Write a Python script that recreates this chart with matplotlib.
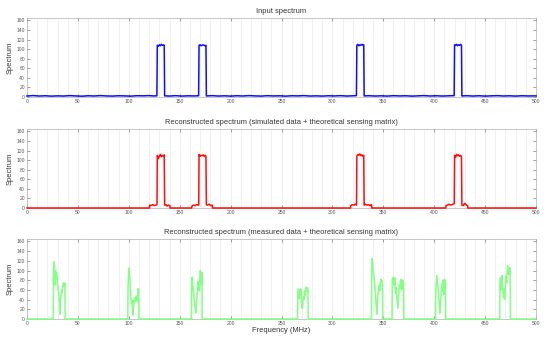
import matplotlib
matplotlib.use("Agg")
import matplotlib.pyplot as plt
from matplotlib.ticker import MultipleLocator

# ---------------- data ----------------
titles = ["Input spectrum",
          "Reconstructed spectrum (simulated data + theoretical sensing matrix)",
          "Reconstructed spectrum (measured data + theoretical sensing matrix)"]

# Input spectrum (blue): breakpoints (MHz) and values
in_freq = [0, 6, 12, 18, 24, 30, 36, 42, 48, 54, 60, 66, 72, 78, 84, 90, 96, 102, 108, 114, 120, 124, 127.6,
           128, 129, 130, 131, 132, 133, 134, 134.8,
           135.2, 140, 146, 152, 158, 164, 168.6,
           169, 170, 171, 172, 173, 174, 175, 175.8,
           176.2, 182, 188, 194, 200, 206, 212, 218, 224, 230, 236, 242, 248, 254, 260, 266, 272, 278, 284,
           290, 296, 302, 308, 314, 320, 323.6,
           324, 325, 326, 327, 328, 329, 330, 330.8,
           331.2, 336, 342, 348, 354, 360, 366, 372, 378, 384, 390, 396, 402, 408, 414, 419.6,
           420, 421, 422, 423, 424, 425, 426, 426.8,
           427.2, 432, 438, 444, 450, 456, 462, 468, 474, 480, 486, 492, 500]
in_val = [2.0, 3.0, 2.0, 2.6, 1.8, 2.4, 2.0, 2.9, 2.2, 1.7, 2.6, 2.1, 2.9, 2.2, 1.9, 2.6, 2.3, 1.8, 2.7, 2.4, 2.9, 2.2, 2.5,
          108, 106, 109, 107, 110, 108, 109, 108,
          2.4, 2.0, 2.8, 1.9, 2.5, 2.2, 2.6,
          108, 109, 107, 108, 109, 108, 107, 108,
          2.2, 2.8, 2.0, 2.5, 1.8, 2.6, 2.1, 2.9, 2.3, 1.9, 2.7, 2.2, 2.5, 1.8, 2.6, 2.3, 2.9, 2.0, 2.4,
          1.9, 2.6, 2.2, 2.8, 2.0, 2.5, 2.9,
          108, 110, 107, 109, 108, 110, 108, 109,
          2.3, 2.7, 2.0, 2.5, 1.9, 2.8, 2.2, 2.6, 1.8, 2.4, 2.9, 2.1, 2.6, 2.0, 2.5, 2.8,
          109, 108, 110, 107, 109, 108, 110, 108,
          2.2, 2.7, 2.0, 2.6, 1.9, 2.4, 2.8, 2.1, 2.5, 1.9, 2.6, 2.2, 2.3]

# Reconstructed, simulated data (red)
sim_freq = [0, 120.3,
            120.5, 122, 123.5, 125, 126.5, 127.7,
            128, 129, 130, 131, 132, 133, 134, 134.8,
            135.2, 136.5, 137.5, 139, 140.3,
            140.5, 161.8,
            162, 163.5, 165, 166.5, 168.7,
            169, 170, 171, 172, 173, 174, 175, 175.8,
            176.2, 177.5, 179, 180.5, 182,
            182.2, 317.8,
            318, 319.5, 321, 322.5, 323.7,
            324, 325, 326, 327, 328, 329, 330, 330.8,
            331.2, 332.5, 334, 335.5, 337, 338.4,
            338.6, 411.4,
            411.6, 413, 414.5, 416, 417.5, 419.7,
            420, 421, 422, 423, 424, 425, 426, 426.8,
            427.2, 428.5, 430, 431.5, 432.8,
            433, 500]
sim_val = [0, 0,
           6, 5, 7, 5, 6, 7,
           110, 103, 108, 112, 107, 110, 108, 111,
           6, 7, 4, 6, 5,
           0, 0,
           4, 6, 5, 7, 6,
           112, 108, 110, 109, 111, 108, 110, 108,
           7, 6, 8, 5, 6,
           0, 0,
           5, 7, 6, 8, 6,
           108, 112, 110, 113, 109, 111, 108, 110,
           6, 8, 6, 7, 5, 7,
           0, 0,
           5, 6, 8, 6, 7, 9,
           110, 106, 112, 109, 111, 108, 110, 107,
           6, 5, 10, 6, 5,
           0, 0]

# Reconstructed, measured data (green)
meas_freq = [0, 25.8,
             26, 26.5, 27, 27.5, 28, 28.5, 29, 29.5, 30, 30.5, 31, 31.5, 32, 32.5, 33, 33.5, 34, 34.5, 35, 35.5, 36, 36.5, 37.2,
             37.5, 99.0,
             99.2, 99.7, 100.2, 100.7, 101.2, 101.7, 102.2, 102.7, 103.2, 103.7, 104.2, 104.7, 105.2, 105.7, 106.2, 106.7,
             107.2, 107.7, 108.2, 108.7, 109.2, 109.7,
             110.0, 161.6,
             161.8, 162.3, 162.8, 163.3, 163.8, 164.3, 164.8, 165.3, 165.8, 166.3, 166.8, 167.3, 167.8, 168.3, 168.8,
             169.3, 169.8, 170.3, 170.8, 171.3, 171.8,
             172.1, 265.8,
             266, 266.5, 267, 267.5, 268, 268.5, 269, 269.5, 270, 270.5, 271, 271.5, 272, 272.5, 273, 273.5, 274,
             274.5, 275, 275.5, 276,
             276.3, 338.4,
             338.6, 339.1, 339.6, 340.1, 340.6, 341.1, 341.6, 342.1, 342.6, 343.1, 343.6, 344.1, 344.6, 345.1, 345.6,
             346.1, 346.6, 347.1, 347.6, 348.1, 348.6, 349.1,
             349.4, 358.6,
             358.8, 359.3, 359.8, 360.3, 360.8, 361.3, 361.8, 362.3, 362.8, 363.3, 363.8, 364.3, 364.8, 365.3, 365.8,
             366.3, 366.8, 367.3, 367.8, 368.3, 368.8, 369.3, 369.8,
             370.1, 401.3,
             401.5, 402, 402.5, 403, 403.5, 404, 404.5, 405, 405.5, 406, 406.5, 407, 407.5, 408, 408.5, 409, 409.5,
             410, 410.5, 411,
             411.3, 464.4,
             464.6, 465.1, 465.6, 466.1, 466.6, 467.1, 467.6, 468.1, 468.6, 469.1, 469.6, 470.1, 470.6, 471.1, 471.6,
             472.1, 472.6, 473.1, 473.6, 474.1, 474.6,
             474.9, 500]
meas_val = [0, 0,
            95, 118, 112, 70, 100, 82, 95, 88, 72, 60, 55, 45, 28, 10, 42, 48, 60, 55, 68, 72, 75, 66, 74,
            0, 0,
            62, 88, 105, 92, 78, 55, 40, 32, 38, 22, 8, 28, 40, 35, 44, 38,
            46, 40, 48, 35, 63, 60,
            0, 0,
            80, 86, 70, 62, 52, 38, 28, 20, 12, 30, 42, 55, 78, 62, 70,
            58, 85, 100, 88, 70, 96,
            0, 0,
            55, 62, 58, 42, 60, 50, 62, 35, 28, 22, 38, 45, 40, 52, 58, 48, 62,
            66, 58, 64, 60,
            0, 0,
            100, 125, 110, 98, 92, 82, 70, 58, 40, 25, 10, 30, 48, 55, 62, 70,
            58, 75, 82, 78, 80, 70,
            0, 0,
            80, 85, 75, 86, 70, 84, 60, 52, 65, 48, 35, 22, 40, 55, 70,
            62, 78, 82, 70, 60, 75, 80, 65,
            0, 0,
            60, 75, 90, 80, 70, 58, 40, 28, 12, 30, 45, 60, 72, 58, 80,
            65, 50, 82, 70, 80,
            0, 0,
            75, 85, 60, 72, 90, 65, 58, 45, 62, 40, 55, 70, 88, 75, 95,
            110, 102, 92, 106, 100, 105,
            0, 0]

series = [(in_freq, in_val, "#0000ff"),
          (sim_freq, sim_val, "#ff0000"),
          (meas_freq, meas_val, "#7fff7f")]

x_ticks = [0, 50, 100, 150, 200, 250, 300, 350, 400, 450, 500]
y_ticks = [0, 20, 40, 60, 80, 100, 120, 140, 160]

# ---------------- figure ----------------
plt.rcParams['font.family'] = ['Liberation Sans', 'DejaVu Sans']
fig = plt.figure(figsize=(5.5, 3.38), dpi=100)
W, H = 550, 338
left, right = 27, 536
tops = [18, 129, 239]
bottoms = [97, 208, 319]

for i, (fx, fy, col) in enumerate(series):
    ax = fig.add_axes([left / W, 1 - bottoms[i] / H, (right - left) / W, (bottoms[i] - tops[i]) / H])
    ax.plot(fx, fy, color=col, lw=1.1, clip_on=False, zorder=5, alpha=0.95)
    ax.set_xlim(0, 500)
    ax.set_ylim(0, 165)
    ax.set_xticks(x_ticks)
    ax.set_yticks(y_ticks)
    ax.xaxis.set_minor_locator(MultipleLocator(10))
    ax.grid(True, which='both', axis='x', color='#ebebeb', lw=0.5)
    ax.set_axisbelow(True)
    ax.tick_params(axis='both', which='major', labelsize=3.6, length=2, width=0.4,
                   colors='#555555', direction='in', top=True, right=True, pad=1.5)
    ax.tick_params(axis='both', which='minor', length=0, top=False)
    for s in ax.spines.values():
        s.set_color('#b0b0b0')
        s.set_linewidth(0.5)
    ax.set_title(titles[i], fontsize=5.4, color='#333333', pad=3.5)
    ax.set_ylabel("Spectrum", fontsize=5.4, color='#333333', labelpad=2)
    if i == 2:
        ax.set_xlabel("Frequency (MHz)", fontsize=5.4, color='#333333', labelpad=1)

fig.savefig("out.png", dpi=100, facecolor='white')
